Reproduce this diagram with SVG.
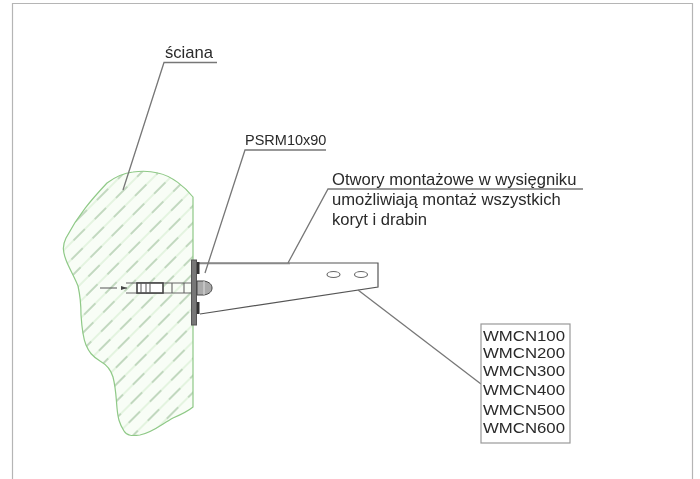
<svg xmlns="http://www.w3.org/2000/svg" width="700" height="479" viewBox="0 0 700 479">
<style>
text{font-family:"Liberation Sans",Arial,sans-serif;font-size:16.6px;fill:#2a2a2a}
.code{font-size:14.5px}
.lead{fill:none;stroke:#777;stroke-width:1.3}
.part{fill:none;stroke:#666;stroke-width:1.1}
</style>
<defs>
<filter id="soft" x="-5%" y="-5%" width="110%" height="110%"><feGaussianBlur stdDeviation="0.55"/></filter>
<pattern id="hatch" width="30" height="24" patternUnits="userSpaceOnUse" patternTransform="rotate(-45)">
<path d="M0 6H30M0 18H30" stroke="#bfe3b8" stroke-width="0.7"/>
<path d="M2 6H18M17 18H30M0 18H3" stroke="#7fa67f" stroke-width="0.7"/>
</pattern>
<path id="wallShape" d="M133 172C140 171 150 171 158 173C172 176 185 187 193 197L193 407C187 412 180 415 173 418C162 424 152 433 140 435C132 436 127 436 124 431C119 423 118 418 117 408C116 397 116 389 113 377C111 370 107 365 100 361C92 356 89 352 86 345C83 338 82 330 81 315C81 303 80 295 78 286C74 276 69 268 66 260C63 252 62 246 66 238C78 215 92 199 107 183C115 177 124 173 133 172Z"/>
</defs>
<rect width="700" height="479" fill="#fff"/>
<path d="M12.500 479V3.500H692.500V479" fill="none" stroke="#b5b5b5" stroke-width="1.2"/>
<g filter="url(#soft)">
<g id="wall">
<use href="#wallShape" fill="#f8fdf6"/>
<use href="#wallShape" fill="url(#hatch)" stroke="#8fc987" stroke-width="1.2"/>
</g>
<g id="bracket">
<path d="M197 263H378V287L200 314" fill="none" stroke="#555" stroke-width="1.2"/>
<path d="M197 263.500H290" fill="none" stroke="#888" stroke-width="1.6"/>
<ellipse class="part" cx="333.500" cy="274.500" rx="6.500" ry="3"/>
<ellipse class="part" cx="361" cy="274.500" rx="6.500" ry="3"/>
</g>
<g id="anchor">
<path d="M100 288H117M122 288H127" stroke="#555" fill="none"/>
<path d="M127 288l-6 -2v4z" fill="#444"/>
<path class="part" d="M126 283H191M126 293H191"/>
<rect x="137" y="283" width="26" height="10" fill="#fff" stroke="#444" stroke-width="1.6"/>
<path d="M141 283V293M146 283V293M150 283V293" stroke="#555" fill="none"/>
<path class="part" d="M172 283V293M184 283V293"/>
<rect x="191.500" y="260" width="5" height="65" fill="#777" stroke="#555"/>
<rect x="197" y="262" width="2.500" height="12" fill="#333"/>
<rect x="197" y="302" width="2.500" height="12" fill="#333"/>
<path d="M197 281H204C210 282 212 285 212 288C212 291 210 294 204 295H197Z" fill="#aaa" stroke="#444"/>
<path d="M204 281V295" stroke="#ddd"/>
</g>
<g id="connectors">
<path class="lead" d="M217 62.500H164L123 190"/>
<path class="lead" d="M326 150H245L205 273"/>
<path class="lead" d="M583 189H328L288 263"/>
<path class="lead" d="M358 290L481 384"/>
</g>
<g id="label-sciana"><text x="165" y="58">ściana</text></g>
<g id="label-psrm"><text x="245" y="145" style="font-size:14.5px">PSRM10x90</text></g>
<g id="label-otwory">
<text x="332" y="185">Otwory montażowe w wysięgniku</text>
<text x="332" y="205">umożliwiają montaż wszystkich</text>
<text x="332" y="225">koryt i drabin</text>
</g>
<g id="label-wmcn">
<rect x="481" y="324" width="89" height="119" fill="#fff" stroke="#999" stroke-width="1.2"/>
<text class="code" x="483" y="341" textLength="82" lengthAdjust="spacingAndGlyphs">WMCN100</text>
<text class="code" x="483" y="358" textLength="82" lengthAdjust="spacingAndGlyphs">WMCN200</text>
<text class="code" x="483" y="376" textLength="82" lengthAdjust="spacingAndGlyphs">WMCN300</text>
<text class="code" x="483" y="395" textLength="82" lengthAdjust="spacingAndGlyphs">WMCN400</text>
<text class="code" x="483" y="415" textLength="82" lengthAdjust="spacingAndGlyphs">WMCN500</text>
<text class="code" x="483" y="433" textLength="82" lengthAdjust="spacingAndGlyphs">WMCN600</text>
</g>
</g>
</svg>
